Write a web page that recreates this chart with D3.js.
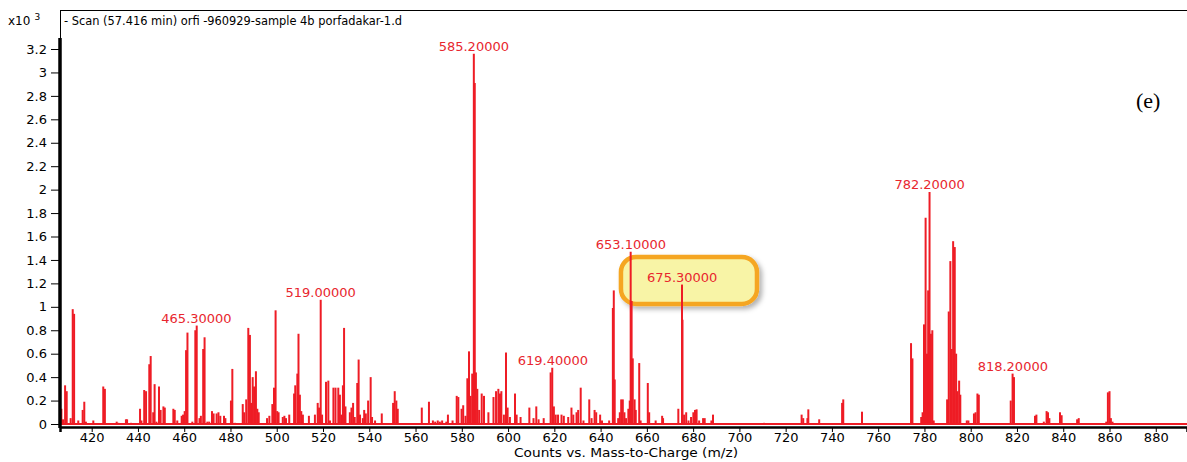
<!DOCTYPE html>
<html>
<head>
<meta charset="utf-8">
<script src="https://cdn.jsdelivr.net/npm/d3@7"></script>
<style>
  html, body { margin: 0; padding: 0; background: #fff; }
  svg { display: block; }
</style>
</head>
<body>
<svg id="chart" width="1187" height="462"></svg>
<script>
// ---- data (intensity in counts x10^3) ----
const mzValues = [
  406.9,407.6,408.5,409.2,410.9,411.8,412.4,414.2,416.1,416.8,417.5,420.7,425.0,425.7,430.8,431.5,434.8,435.3,437.0,
  440.9,441.5,442.7,443.5,444.9,445.5,446.6,447.2,448.0,449.1,449.8,451.0,451.6,455.3,455.9,457.0,458.9,459.5,460.2,
  460.8,461.4,463.5,464.8,465.4,466.6,467.2,468.2,468.8,470.0,470.8,472.0,472.7,474.0,474.8,475.6,477.2,477.8,480.2,
  480.8,482.0,485.3,485.9,486.8,487.7,488.4,488.9,489.6,490.2,491.0,491.6,492.2,495.8,496.8,498.1,498.8,499.5,500.2,
  500.8,502.6,503.3,504.0,505.4,507.5,508.0,508.9,509.4,510.0,510.6,511.3,513.9,516.5,517.7,518.3,519.0,519.6,521.3,
  522.3,523.0,524.5,525.4,526.6,527.3,527.9,528.6,529.1,529.7,531.6,532.3,533.0,533.7,534.8,535.4,536.0,537.2,537.8,
  538.5,539.5,540.6,541.2,542.5,545.4,550.3,551.0,551.7,552.3,562.7,565.8,567.5,568.5,569.6,570.5,571.5,573.3,574.0,
  576.0,577.8,578.5,579.9,580.6,581.6,582.4,583.1,583.8,584.5,585.2,585.6,586.1,586.7,587.5,588.6,589.6,591.5,593.7,
  594.8,595.8,596.5,597.1,598.2,599.1,599.8,600.8,603.0,603.7,605.4,609.2,611.0,612.2,613.2,615.4,618.4,619.1,619.8,
  620.6,621.6,623.1,624.1,626.0,627.4,628.2,629.6,630.3,631.4,632.6,635.1,636.1,637.4,638.1,639.8,640.6,643.7,645.3,
  645.7,646.1,647.6,648.3,648.9,649.6,650.3,651.0,652.0,652.6,653.0,653.4,653.9,654.7,655.2,656.7,657.3,660.4,661.0,
  663.8,666.6,667.0,673.6,675.2,675.4,676.1,677.0,678.0,679.1,680.1,680.8,681.5,682.6,684.3,685.0,687.9,688.6,710.7,
  726.9,727.6,729.4,729.8,734.5,744.4,744.9,753.0,774.2,774.8,778.6,779.2,779.8,780.5,781.1,781.6,782.2,782.8,783.4,
  784.0,789.8,790.5,791.2,791.8,792.4,793.1,793.7,794.3,795.0,795.5,798.3,799.0,801.4,802.1,802.9,803.5,817.3,818.1,
  818.7,827.8,828.4,831.6,832.8,833.4,834.0,838.6,839.3,846.0,846.7,858.6,859.3,860.0,860.6,861.3
];
const intensityValues = [
  0.13,0.04,0.33,0.28,0.05,0.98,0.94,0.03,0.12,0.19,0.02,0.03,0.32,0.30,0.02,0.01,0.04,0.04,0.01,
  0.13,0.03,0.29,0.28,0.51,0.58,0.10,0.34,0.02,0.32,0.12,0.15,0.14,0.13,0.12,0.03,0.07,0.08,0.11,
  0.63,0.78,0.02,0.80,0.84,0.05,0.07,0.64,0.74,0.02,0.02,0.11,0.09,0.09,0.10,0.07,0.07,0.05,0.20,
  0.47,0.01,0.17,0.10,0.21,0.82,0.76,0.18,0.40,0.32,0.45,0.13,0.10,0.05,0.07,0.17,0.31,0.97,0.11,
  0.10,0.06,0.07,0.05,0.08,0.26,0.33,0.43,0.77,0.25,0.11,0.08,0.07,0.08,0.18,0.14,1.06,0.08,0.36,
  0.37,0.03,0.31,0.31,0.31,0.25,0.08,0.33,0.82,0.15,0.10,0.14,0.18,0.06,0.35,0.55,0.08,0.05,0.12,
  0.09,0.20,0.40,0.06,0.03,0.09,0.18,0.28,0.20,0.13,0.14,0.19,0.03,0.02,0.03,0.02,0.03,0.02,0.08,
  0.03,0.24,0.23,0.13,0.16,0.07,0.39,0.62,0.24,0.43,3.16,2.91,0.44,0.30,0.12,0.26,0.24,0.10,0.23,
  0.28,0.30,0.26,0.28,0.08,0.61,0.14,0.06,0.26,0.08,0.06,0.14,0.05,0.15,0.04,0.05,0.44,0.48,0.15,
  0.08,0.08,0.08,0.07,0.06,0.14,0.08,0.10,0.12,0.31,0.03,0.21,0.05,0.12,0.10,0.08,0.03,0.03,0.99,
  1.14,0.38,0.05,0.10,0.21,0.21,0.10,0.05,0.13,0.20,1.47,1.05,0.56,0.21,0.12,0.52,0.03,0.35,0.10,
  0.03,0.07,0.05,0.13,1.19,0.89,0.08,0.10,0.03,0.06,0.10,0.12,0.125,0.03,0.05,0.05,0.03,0.08,0.01,
  0.08,0.05,0.05,0.125,0.04,0.18,0.21,0.105,0.69,0.56,0.06,0.10,0.85,1.76,0.60,1.14,1.98,0.77,0.80,
  0.03,0.21,0.96,1.39,0.64,1.56,1.51,0.60,0.28,0.37,0.25,0.03,0.03,0.09,0.10,0.26,0.25,0.20,0.43,
  0.40,0.07,0.08,0.02,0.11,0.10,0.05,0.10,0.075,0.04,0.05,0.02,0.27,0.28,0.05,0.02
];
const peakLabelMz = [465.3, 519.0, 585.2, 619.4, 653.1, 675.3, 782.2, 818.2];
const peakLabelValues = [0.84, 1.06, 3.16, 0.48, 1.47, 1.19, 1.98, 0.43];
const peakLabelTexts = ["465.30000","519.00000","585.20000","619.40000","653.10000","675.30000","782.20000","818.20000"];
const xTickValues = [420,440,460,480,500,520,540,560,580,600,620,640,660,680,700,720,740,760,780,800,820,840,860,880];
const yTickValues = [0,0.2,0.4,0.6,0.8,1,1.2,1.4,1.6,1.8,2,2.2,2.4,2.6,2.8,3,3.2];
const titleText = "- Scan (57.416 min) orfi -960929-sample 4b porfadakar-1.d";
const xAxisTitle = "Counts vs. Mass-to-Charge (m/z)";
const panelLabel = "(e)";
// highlighted annotation region (m/z range, intensity range)
const highlightMz = [648.8, 707.6];
const highlightInt = [1.025, 1.425];

// ---- drawing ----
const svg = d3.select("#chart");
const RED = "#ee1c25";
const FONT = "'DejaVu Sans', Verdana, sans-serif";

const x = d3.scaleLinear().domain([406.3, 893.5]).range([60, 1187]);
const y = d3.scaleLinear().domain([0, 3.2]).range([424, 49]);

const defs = svg.append("defs");
const f = defs.append("filter").attr("id","shadow").attr("x","-20%").attr("y","-30%").attr("width","140%").attr("height","170%");
f.append("feDropShadow").attr("dx",3).attr("dy",3).attr("stdDeviation",2.5).attr("flood-color","#000").attr("flood-opacity",0.3);

// frame (top + left thin)
svg.append("line").attr("x1",60).attr("x2",1187).attr("y1",10.5).attr("y2",10.5)
  .attr("stroke","#000").attr("stroke-width",1);
svg.append("line").attr("x1",60.5).attr("x2",60.5).attr("y1",10).attr("y2",427)
  .attr("stroke","#000").attr("stroke-width",1);

// highlight box
svg.append("rect")
  .attr("x", x(highlightMz[0])).attr("y", y(highlightInt[1]))
  .attr("width", x(highlightMz[1]) - x(highlightMz[0]))
  .attr("height", y(highlightInt[0]) - y(highlightInt[1]))
  .attr("rx", 15).attr("ry", 15)
  .attr("fill", "#f8f4a6").attr("stroke", "#f5a623").attr("stroke-width", 4.5)
  .attr("filter","url(#shadow)");

// baseline
svg.append("line").attr("x1", 60).attr("x2", 1187).attr("y1", y(0)).attr("y2", y(0))
  .attr("stroke", RED).attr("stroke-width", 2);

// peaks
const peaks = mzValues.map((m, i) => ({ mz: m, v: intensityValues[i] }));
svg.append("g").selectAll("line").data(peaks).join("line")
  .attr("x1", d => x(d.mz)).attr("x2", d => x(d.mz))
  .attr("y1", y(0)).attr("y2", d => y(d.v))
  .attr("stroke", RED).attr("stroke-width", 2);

// peak labels
svg.append("g").selectAll("text").data(peakLabelMz).join("text")
  .attr("x", d => x(d)).attr("y", (d, i) => y(peakLabelValues[i]) - 2.5)
  .attr("text-anchor", "middle")
  .attr("font-family", FONT).attr("font-size", 13).attr("fill", "#e8262e")
  .text((d, i) => peakLabelTexts[i]);

// x axis
const xAxis = svg.append("g").attr("transform", "translate(0,427)")
  .call(d3.axisBottom(x).tickValues(xTickValues).tickSize(5).tickPadding(1).tickFormat(d3.format("d")));
xAxis.select(".domain").attr("stroke-width", 2.5);
xAxis.selectAll("text").attr("font-family", FONT).attr("font-size", 13).attr("fill", "#000");

// y axis
const yAxis = svg.append("g").attr("transform", "translate(60,0)")
  .call(d3.axisLeft(y).tickValues(yTickValues).tickSize(9).tickPadding(4).tickFormat(d => d3.format("~g")(+d.toFixed(1))));
yAxis.select(".domain").remove();
yAxis.selectAll("text").attr("font-family", FONT).attr("font-size", 13).attr("fill", "#000");
svg.append("line").attr("x1", 60).attr("x2", 60).attr("y1", 38).attr("y2", 428)
  .attr("stroke", "#000").attr("stroke-width", 3.5);

// multiplier
const mult = svg.append("text").attr("x", 8).attr("y", 25)
  .attr("font-family", FONT).attr("font-size", 12).attr("fill", "#000");
mult.append("tspan").text("x10");
mult.append("tspan").attr("dx", 4).attr("dy", -5).attr("font-size", 9).text("3");

// title
svg.append("text").attr("x", 64).attr("y", 25)
  .attr("font-family", FONT).attr("font-size", 12.5).attr("fill", "#000")
  .attr("textLength", 338).attr("lengthAdjust", "spacingAndGlyphs")
  .text(titleText);

// x axis title
svg.append("text").attr("x", 626).attr("y", 457).attr("text-anchor", "middle")
  .attr("font-family", FONT).attr("font-size", 12).attr("fill", "#000")
  .attr("textLength", 224).attr("lengthAdjust", "spacingAndGlyphs")
  .text(xAxisTitle);

// panel label
svg.append("text").attr("x", 1136).attr("y", 108)
  .attr("font-family", "'Liberation Serif', 'Times New Roman', serif").attr("font-size", 22).attr("fill", "#000")
  .text(panelLabel);
</script>
</body>
</html>
